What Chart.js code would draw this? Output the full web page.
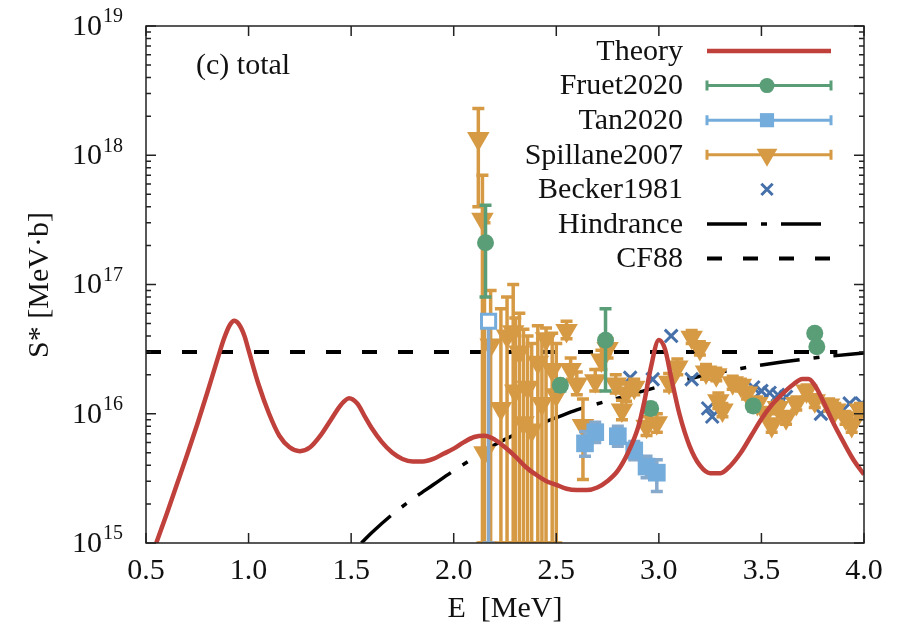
<!DOCTYPE html>
<html>
<head>
<meta charset="utf-8">
<script src="https://cdn.jsdelivr.net/npm/chart.js@4.4.0/dist/chart.umd.min.js"></script>
<style>
html, body { margin: 0; padding: 0; background: #fff; }
#wrap { width: 899px; height: 625px; }
</style>
</head>
<body>
<div id="wrap"><canvas id="chart"></canvas></div>
<script>
// values (E in MeV, S* in MeV b)
var theoryE = [0.55, 0.6, 0.65, 0.7, 0.75, 0.8, 0.85, 0.88, 0.91, 0.93, 0.95, 0.98, 1.0, 1.05, 1.1, 1.15, 1.2, 1.25, 1.3, 1.35, 1.4, 1.45,
    1.49, 1.53, 1.57, 1.6, 1.65, 1.7, 1.75, 1.8, 1.85, 1.9, 1.95, 2.0, 2.05, 2.1, 2.15, 2.2, 2.25, 2.3, 2.35, 2.4,
    2.45, 2.5, 2.55, 2.6, 2.65, 2.7, 2.75, 2.8, 2.85, 2.9, 2.93, 2.96, 3.0, 3.03, 3.06, 3.1, 3.15, 3.2, 3.25, 3.3,
    3.35, 3.4, 3.45, 3.5, 3.55, 3.6, 3.65, 3.7, 3.73, 3.76, 3.8, 3.85, 3.9, 3.95, 4.0];
var theoryS = [1.0e15, 1.66e15, 2.82e15, 4.79e15, 8.3e15, 1.48e16, 2.69e16, 3.8e16, 4.9e16, 5.25e16, 5.0e16, 4.0e16, 3.1e16, 1.66e16, 1.0e16, 6.76e15, 5.5e15, 5.13e15, 5.5e15, 6.76e15, 8.91e15, 1.17e16,
    1.32e16, 1.2e16, 9.33e15, 7.76e15, 6.03e15, 5.01e15, 4.47e15, 4.27e15, 4.27e15, 4.47e15, 4.9e15, 5.37e15, 6.03e15, 6.61e15, 6.76e15, 6.31e15, 5.5e15, 4.68e15, 3.89e15, 3.39e15,
    3.02e15, 2.82e15, 2.63e15, 2.57e15, 2.57e15, 2.69e15, 3.02e15, 3.63e15, 5.01e15, 7.94e15, 1.26e16, 2.24e16, 3.72e16, 3.16e16, 1.91e16, 1.0e16, 5.62e15, 3.98e15, 3.47e15, 3.47e15,
    3.98e15, 5.01e15, 6.76e15, 9.12e15, 1.17e16, 1.41e16, 1.66e16, 1.86e16, 1.86e16, 1.66e16, 1.26e16, 8.51e15, 6.03e15, 4.37e15, 3.39e15];

var fruetE = [2.155, 2.52, 2.74, 2.96, 3.46, 3.76, 3.77];
var fruetS = [2.1e17, 1.66e16, 3.7e16, 1.1e16, 1.15e16, 4.2e16, 3.3e16];
var fruetLo = [8.0e16, 1.5e16, 1.5e16, 1.0e16, 1.05e16, 4.0e16, 3.15e16];
var fruetHi = [4.1e17, 1.8e16, 6.5e16, 1.2e16, 1.25e16, 4.4e16, 3.45e16];

var tanE = [2.17, 2.64, 2.69, 2.80, 2.88, 2.94, 2.99];
var tanS = [5.2e16, 5.9e15, 7.2e15, 6.7e15, 5.2e15, 3.9e15, 3.5e15];
var tanLo = [1.0e15, 4.7e15, 6.0e15, 5.6e15, 4.4e15, 3.2e15, 2.5e15];
var tanHi = [5.2e16, 7.3e15, 8.6e15, 8.0e15, 6.1e15, 4.7e15, 4.4e15];

var spE = [2.12, 2.14, 2.15, 2.18, 2.23, 2.26, 2.29, 2.30, 2.32, 2.34, 2.36, 2.38, 2.41, 2.43, 2.45, 2.48, 2.50,
    2.55, 2.57, 2.60, 2.63, 2.69, 2.72, 2.75, 2.79, 2.82, 2.84, 2.88, 2.94, 2.99, 3.05, 3.09, 3.16, 3.20, 3.23,
    3.28, 3.29, 3.31, 3.36, 3.40, 3.43, 3.48, 3.52, 3.55, 3.58, 3.62, 3.67, 3.72, 3.76, 3.83, 3.86, 3.91, 3.94, 3.98];
var spS = [1.35e18, 3.2e17, 5.0e15, 3.4e16, 1.1e16, 4.0e16, 4.3e16, 1.5e16, 3.0e16, 8.5e15, 1.6e16, 7.5e15, 2.5e16, 1.2e16, 3.8e16, 2.2e16, 1.4e16,
    4.4e16, 2.2e16, 1.7e16, 8.1e15, 1.8e16, 2.6e16, 3.2e16, 1.7e16, 1.07e16, 1.45e16, 1.6e16, 8.0e15, 8.5e15, 1.75e16, 2.3e16, 3.9e16, 3.2e16, 2.1e16,
    2.0e16, 1.26e16, 1.07e16, 1.74e16, 1.66e16, 1.45e16, 1.2e16, 1.0e16, 8.1e15, 1.12e16, 9.3e15, 1.2e16, 1.5e16, 1.26e16, 1.17e16, 1.07e16, 9.3e15, 8.1e15, 1.07e16];
var spLo = [4.0e17, 1e15, 1e15, 1e15, 1e15, 1e15, 1e15, 1e15, 1e15, 1e15, 1e15, 1e15, 1e15, 1e15, 1e15, 1e15, 1e15,
    3.8e16, 1.8e16, 1.4e16, 3.1e15, 1.5e16, 2.2e16, 2.7e16, 1.45e16, 9.0e15, 1.25e16, 1.4e16, 6.8e15, 7.2e15, 1.5e16, 2.0e16, 3.5e16, 2.85e16, 1.85e16,
    1.8e16, 1.1e16, 9.5e15, 1.55e16, 1.5e16, 1.3e16, 1.07e16, 9.0e15, 7.2e15, 1.0e16, 8.3e15, 1.07e16, 1.35e16, 1.12e16, 1.05e16, 9.5e15, 8.3e15, 7.2e15, 9.5e15];
var spHi = [2.3e18, 7.0e17, 3.0e17, 9.0e16, 6.5e16, 8.0e16, 1.0e17, 5.5e16, 6.0e16, 4.5e16, 4.0e16, 3.5e16, 4.8e16, 3.8e16, 4.6e16, 4.2e16, 3.5e16,
    5.2e16, 2.7e16, 2.1e16, 1.3e16, 2.2e16, 3.1e16, 3.8e16, 2.0e16, 1.27e16, 1.7e16, 1.85e16, 9.5e15, 1.0e16, 2.05e16, 2.65e16, 4.4e16, 3.6e16, 2.4e16,
    2.25e16, 1.45e16, 1.2e16, 1.95e16, 1.85e16, 1.6e16, 1.35e16, 1.12e16, 9.1e15, 1.25e16, 1.04e16, 1.35e16, 1.67e16, 1.4e16, 1.3e16, 1.2e16, 1.04e16, 9.1e15, 1.2e16];

var beckerE = [2.86, 2.97, 3.06, 3.16, 3.24, 3.26, 3.46, 3.50, 3.54, 3.58, 3.62, 3.79, 3.93, 3.99];
var beckerS = [1.9e16, 1.85e16, 4.0e16, 1.85e16, 1.1e16, 9.5e15, 1.6e16, 1.5e16, 1.45e16, 1.4e16, 1.35e16, 1.0e16, 1.2e16, 1.2e16];

var hindE = [1.55, 1.6, 1.7, 1.8, 1.9, 2.0, 2.1, 2.2, 2.3, 2.4, 2.5, 2.6, 2.8, 3.0, 3.2, 3.4, 3.6, 3.8, 4.0];
var hindS = [1.0e15, 1.2e15, 1.66e15, 2.19e15, 2.82e15, 3.63e15, 4.57e15, 5.75e15, 6.92e15, 8.13e15, 9.33e15, 1.07e16, 1.32e16, 1.62e16, 1.95e16, 2.24e16, 2.51e16, 2.75e16, 2.95e16];

var cf88E = [0.5, 3.87];
var cf88S = [3.0e16, 3.0e16];

var xTicks = [0.5, 1.0, 1.5, 2.0, 2.5, 3.0, 3.5, 4.0];
var xTickLabels = ['0.5', '1.0', '1.5', '2.0', '2.5', '3.0', '3.5', '4.0'];
var yDecades = [15, 16, 17, 18, 19];

var FONT = '"Liberation Serif", "DejaVu Serif", serif';
var RED = '#c0403c', GREEN = '#5a9e78', BLUE = '#74acdb', ORANGE = '#d69a45', XBLUE = '#4670aa';

function pts(xs, ys) {
    return xs.map(function(v, i) { return {x: v, y: ys[i]}; });
}
function lastOf(v) {
    return Array.isArray(v) ? v[v.length - 1] : v;
}

// error bars drawn just under each dataset's markers
var errorBars = {
    id: 'errorBars',
    beforeDatasetDraw: function(chart, args) {
        var ds = chart.data.datasets[args.index];
        if (!ds.errLo) return;
        var ctx = chart.ctx, xs = chart.scales.x, ys = chart.scales.y, a = chart.chartArea;
        ctx.save();
        ctx.beginPath();
        ctx.rect(a.left, a.top, a.right - a.left, a.bottom - a.top);
        ctx.clip();
        ctx.strokeStyle = ds.errColor;
        ctx.lineWidth = 3.5;
        var cap = 6;
        ds.data.forEach(function(p, i) {
            var px = xs.getPixelForValue(p.x);
            var y1 = ys.getPixelForValue(ds.errLo[i]);
            var y2 = ys.getPixelForValue(ds.errHi[i]);
            ctx.beginPath();
            ctx.moveTo(px, y1); ctx.lineTo(px, y2);
            ctx.moveTo(px - cap, y1); ctx.lineTo(px + cap, y1);
            ctx.moveTo(px - cap, y2); ctx.lineTo(px + cap, y2);
            ctx.stroke();
        });
        ctx.restore();
    }
};

// gnuplot-like frame with inward ticks
var frame = {
    id: 'frame',
    afterDatasetsDraw: function(chart) {
        var ctx = chart.ctx, xs = chart.scales.x, ys = chart.scales.y, a = chart.chartArea;
        ctx.save();
        ctx.strokeStyle = '#222';
        ctx.lineWidth = 1.5;
        ctx.strokeRect(a.left, a.top, a.right - a.left, a.bottom - a.top);
        ctx.beginPath();
        xTicks.forEach(function(v) {
            var px = xs.getPixelForValue(v);
            ctx.moveTo(px, a.bottom); ctx.lineTo(px, a.bottom - 10);
            ctx.moveTo(px, a.top); ctx.lineTo(px, a.top + 10);
        });
        yDecades.forEach(function(n, k) {
            var py = ys.getPixelForValue(Math.pow(10, n));
            ctx.moveTo(a.left, py); ctx.lineTo(a.left + 10, py);
            ctx.moveTo(a.right, py); ctx.lineTo(a.right - 10, py);
            if (k == yDecades.length - 1) return;
            for (var m = 2; m < 10; m++) {
                var q = ys.getPixelForValue(m * Math.pow(10, n));
                ctx.moveTo(a.left, q); ctx.lineTo(a.left + 5, q);
                ctx.moveTo(a.right, q); ctx.lineTo(a.right - 5, q);
            }
        });
        ctx.stroke();

        ctx.fillStyle = '#111';
        ctx.font = '30px ' + FONT;
        ctx.textAlign = 'center';
        ctx.textBaseline = 'middle';
        xTicks.forEach(function(v, i) {
            ctx.fillText(xTickLabels[i], xs.getPixelForValue(v), 571);
        });
        yDecades.forEach(function(n) {
            var py = ys.getPixelForValue(Math.pow(10, n));
            ctx.font = '30px ' + FONT;
            ctx.textAlign = 'right';
            ctx.textBaseline = 'middle';
            ctx.fillText('10', a.left - 44, py + 1);
            ctx.font = '20px ' + FONT;
            ctx.textAlign = 'left';
            ctx.fillText(String(n), a.left - 43, py - 9);
        });

        ctx.font = '30px ' + FONT;
        ctx.textAlign = 'center';
        ctx.textBaseline = 'middle';
        ctx.fillText('E  [MeV]', 505, 609);
        ctx.save();
        ctx.translate(40, 285);
        ctx.rotate(-Math.PI / 2);
        ctx.fillText('S* [MeV\u00b7b]', 0, 0);
        ctx.restore();

        ctx.font = '30px ' + FONT;
        ctx.textAlign = 'left';
        ctx.fillText('(c) total', 196, 66);
        ctx.restore();
    }
};

// legend: right-aligned labels, samples on the right
var keyBox = {
    id: 'keyBox',
    afterDraw: function(chart) {
        var ctx = chart.ctx;
        var tx = 683, x1 = 707, x2 = 831, xm = 767;
        ctx.save();
        chart.data.datasets.forEach(function(ds, i) {
            var y = 51 + i * 34.6;
            ctx.fillStyle = '#111';
            ctx.font = '30px ' + FONT;
            ctx.textAlign = 'right';
            ctx.textBaseline = 'middle';
            ctx.fillText(ds.label, tx, y + 1);
            ctx.setLineDash(ds.borderDash || []);
            if (ds.showLine) {
                ctx.strokeStyle = ds.borderColor;
                ctx.lineWidth = ds.borderWidth;
                ctx.beginPath(); ctx.moveTo(x1, y); ctx.lineTo(x2, y); ctx.stroke();
            }
            ctx.setLineDash([]);
            if (ds.errLo) {
                ctx.strokeStyle = ds.keyColor || ds.errColor;
                ctx.lineWidth = 3;
                ctx.beginPath();
                ctx.moveTo(x1, y); ctx.lineTo(x2, y);
                ctx.moveTo(x1, y - 5); ctx.lineTo(x1, y + 5);
                ctx.moveTo(x2, y - 5); ctx.lineTo(x2, y + 5);
                ctx.stroke();
            }
            if (!ds.showLine) {
                var bw = lastOf(ds.borderWidth);
                ctx.fillStyle = lastOf(ds.backgroundColor);
                ctx.strokeStyle = ds.borderColor;
                ctx.lineWidth = bw;
                Chart.helpers.drawPoint(ctx, {
                    pointStyle: ds.pointStyle, radius: lastOf(ds.pointRadius) - (ds.pointStyle == 'rect' ? 2.5 : 1),
                    rotation: ds.rotation || 0, borderWidth: bw
                }, xm, y);
            }
        });
        ctx.restore();
    }
};

new Chart(document.getElementById('chart'), {
    type: 'scatter',
    data: {
        datasets: [{
            label: 'Theory',
            data: pts(theoryE, theoryS),
            showLine: true,
            borderColor: RED,
            borderWidth: 4.5,
            pointRadius: 0,
            cubicInterpolationMode: 'monotone'
        }, {
            label: 'Fruet2020',
            data: pts(fruetE, fruetS),
            showLine: false,
            pointStyle: 'circle',
            pointRadius: 8.5,
            backgroundColor: GREEN,
            borderColor: GREEN,
            borderWidth: 0,
            errLo: fruetLo, errHi: fruetHi, errColor: GREEN
        }, {
            label: 'Tan2020',
            data: pts(tanE, tanS),
            showLine: false,
            pointStyle: 'rect',
            pointRadius: [10, 12.5, 12.5, 12.5, 12.5, 12.5, 12.5],
            backgroundColor: ['#ffffff', BLUE, BLUE, BLUE, BLUE, BLUE, BLUE],
            borderColor: BLUE,
            borderWidth: [3, 0, 0, 0, 0, 0, 0],
            errLo: tanLo, errHi: tanHi, errColor: '#86a9cc', keyColor: BLUE
        }, {
            label: 'Spillane2007',
            data: pts(spE, spS),
            showLine: false,
            pointStyle: 'triangle',
            rotation: 180,
            pointRadius: 13,
            backgroundColor: ORANGE,
            borderColor: ORANGE,
            borderWidth: 0,
            errLo: spLo, errHi: spHi, errColor: ORANGE
        }, {
            label: 'Becker1981',
            data: pts(beckerE, beckerS),
            showLine: false,
            pointStyle: 'crossRot',
            pointRadius: 9,
            backgroundColor: XBLUE,
            borderColor: XBLUE,
            borderWidth: 3
        }, {
            label: 'Hindrance',
            data: pts(hindE, hindS),
            showLine: true,
            borderColor: '#000',
            borderWidth: 3.5,
            borderDash: [40, 14, 6, 14],
            pointRadius: 0,
            cubicInterpolationMode: 'monotone'
        }, {
            label: 'CF88',
            data: pts(cf88E, cf88S),
            showLine: true,
            borderColor: '#000',
            borderWidth: 4,
            borderDash: [15, 21],
            pointRadius: 0
        }]
    },
    options: {
        responsive: true,
        maintainAspectRatio: false,
        animation: false,
        layout: { padding: { left: 146, right: 35, top: 26, bottom: 82 } },
        plugins: { legend: { display: false }, tooltip: { enabled: false } },
        scales: {
            x: { type: 'linear', min: 0.5, max: 4.0, display: false },
            y: { type: 'logarithmic', min: 1e15, max: 1e19, display: false }
        }
    },
    plugins: [errorBars, frame, keyBox]
});
</script>
</body>
</html>
